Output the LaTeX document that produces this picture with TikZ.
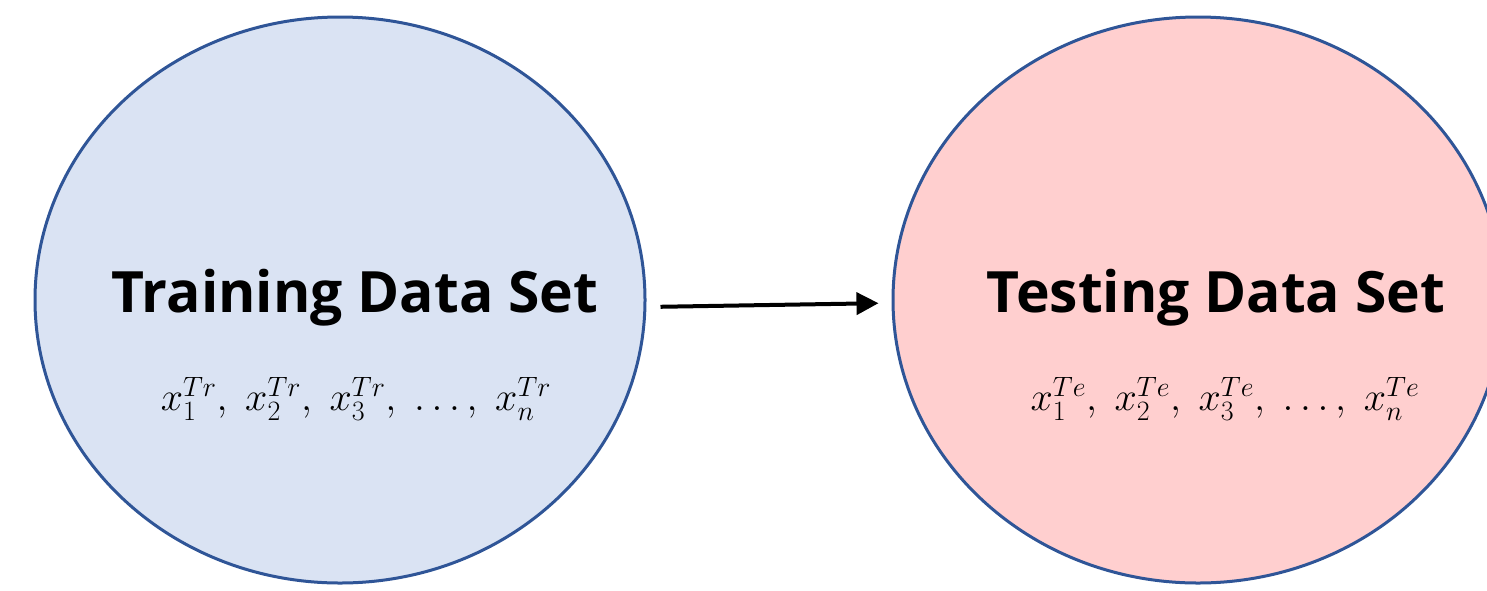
\RequirePackage{fix-cm}
\documentclass[tikz,border=0pt]{standalone}
\usepackage{fontspec}
\setmainfont{Open Sans}
\usetikzlibrary{shapes.geometric,arrows.meta}
\definecolor{trainfill}{HTML}{DAE3F3}
\definecolor{testfill}{HTML}{FFCFCF}
\definecolor{rim}{HTML}{2F5597}
\tikzset{
  setellipse/.style={ellipse, draw=rim, line width=3pt, minimum width=610pt, minimum height=566pt, inner sep=0pt},
  title/.style={font=\fontsize{57}{60}\selectfont\bfseries, inner sep=0pt},
  seq/.style={font=\fontsize{40}{44}\selectfont, inner sep=0pt},
  flow/.style={line width=4pt, -{Triangle[length=22pt,width=22pt]}}
}
\begin{document}
\begin{tikzpicture}[x=1pt,y=-1pt]
\useasboundingbox (0,0) rectangle (1487,590);
\clip (0,0) rectangle (1487,590);
\node[setellipse, fill=trainfill] (train) at (340,300) {};
\node[setellipse, fill=testfill] (test) at (1198,300) {};
\node[title] (traintitle) at (355,298) {Training Data Set};
\node[title] (testtitle) at (1216,298) {Testing Data Set};
\node[seq] (trainseq) at (356,399) {$x_1^{Tr},\; x_2^{Tr},\; x_3^{Tr},\; \ldots,\; x_n^{Tr}$};
\node[seq] (testseq) at (1225,399) {$x_1^{Te},\; x_2^{Te},\; x_3^{Te},\; \ldots,\; x_n^{Te}$};
\draw[flow, shorten <=14pt, shorten >=13pt] ([yshift=-7pt]train.east) -- ([yshift=-3pt]test.west);
\end{tikzpicture}
\end{document}
